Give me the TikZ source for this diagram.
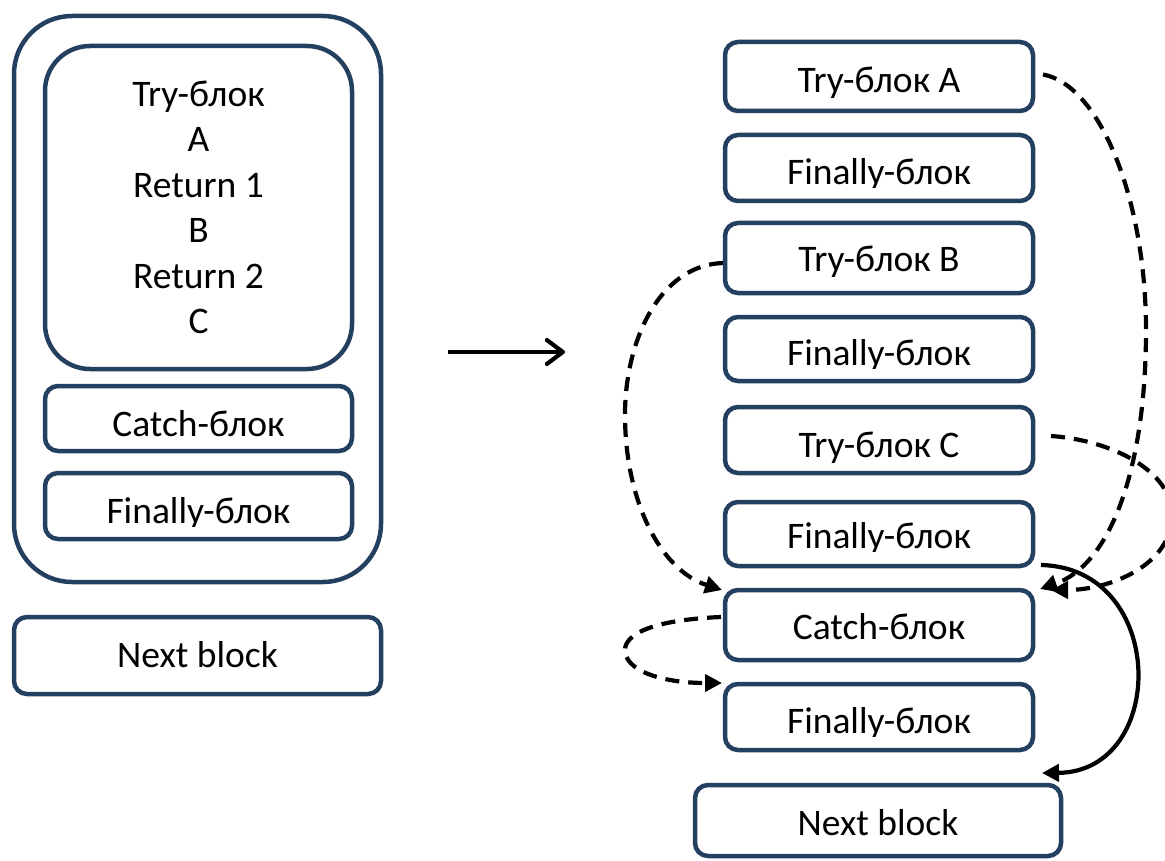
\documentclass[tikz,border=0pt]{standalone}
\usepackage{fontspec}
\setmainfont{Carlito}
\usetikzlibrary{arrows.meta}
\definecolor{navy}{RGB}{36,64,97}
\tikzset{
  blk/.style={draw=navy, line width=4.5pt, rounded corners=13pt, inner sep=0pt, outer sep=0pt},
  lbl/.style={anchor=base, inner sep=0pt, outer sep=0pt, font=\fontsize{37.5}{45}\selectfont},
  rbox/.style={blk, minimum width=308pt},
  flow/.style={line width=4.2pt, dash pattern=on 14pt off 9pt, -{Triangle[length=17pt,width=17pt]}},
  solidflow/.style={line width=4.2pt, -{Triangle[length=17pt,width=17pt]}},
}
\begin{document}
\begin{tikzpicture}[x=1pt,y=-1pt]
\clip (0,0) rectangle (1165,861);

% ---------- left: nested try/catch/finally ----------
\node[blk, rounded corners=58pt, minimum width=367pt, minimum height=566pt] (outer) at (197.5,299) {};
\node[blk, rounded corners=45pt, minimum width=307pt, minimum height=323pt] (tryL) at (198.5,207.5) {};
\node[lbl] (l1) at (198.5,107) {Try-блок};
\node[lbl] (l2) at (198.5,152) {A};
\node[lbl] (l3) at (198.5,198) {Return 1};
\node[lbl] (l4) at (198.5,243) {B};
\node[lbl] (l5) at (198.5,288) {Return 2};
\node[lbl] (l6) at (198.5,333) {C};

\node[blk, minimum width=307pt, minimum height=65pt] (catchL) at (198.5,418.5) {};
\node[lbl] (catchLt) at (198.5,436) {Catch-блок};

\node[blk, minimum width=307pt, minimum height=66pt] (finL) at (198.5,506) {};
\begin{scope}
  \clip (47,475) rectangle (350,526);
  \node[lbl] (finLt) at (198.5,523) {Finally-блок};
\end{scope}

\node[blk, minimum width=367pt, minimum height=77pt] (nextL) at (197.5,655.5) {};
\node[lbl] (nextLt) at (197.5,667) {Next block};

% ---------- middle arrow ----------
\coordinate (m1) at (448,352);
\coordinate (m2) at (565,352);
\draw[line width=4.2pt, -{Straight Barb[length=16pt,width=24pt,round]}] (m1) -- (m2);

% ---------- right: unrolled blocks ----------
\node[rbox, minimum height=69pt] (tA) at (879,76.5) {};
\node[lbl] (tAt) at (879,93) {Try-блок A};

\node[rbox, minimum height=66pt] (f1) at (879,168) {};
\begin{scope}
  \clip (727,137) rectangle (1031,188);
  \node[lbl] (f1t) at (879,185) {Finally-блок};
\end{scope}

\node[rbox, minimum height=70pt] (tB) at (879,258) {};
\node[lbl] (tBt) at (879,272) {Try-блок B};

\node[rbox, minimum height=64pt] (f2) at (879,349) {};
\begin{scope}
  \clip (727,319) rectangle (1031,368);
  \node[lbl] (f2t) at (879,365) {Finally-блок};
\end{scope}

\node[rbox, minimum height=66pt] (tC) at (879,440) {};
\node[lbl] (tCt) at (879,457) {Try-блок C};

\node[rbox, minimum height=64pt] (f3) at (879,534) {};
\begin{scope}
  \clip (727,504) rectangle (1031,551);
  \node[lbl] (f3t) at (879,548) {Finally-блок};
\end{scope}

\node[rbox, minimum height=70pt] (cR) at (879,625) {};
\node[lbl] (cRt) at (879,639) {Catch-блок};

\node[rbox, minimum height=66pt] (f4) at (879,717) {};
\begin{scope}
  \clip (727,686) rectangle (1031,736);
  \node[lbl] (f4t) at (879,733) {Finally-блок};
\end{scope}

\node[blk, minimum width=366pt, minimum height=71pt] (nR) at (878,820.5) {};
\node[lbl] (nRt) at (878,835) {Next block};

% ---------- control-flow connectors ----------
% Try A -> Catch
\draw[flow] ([shift={(10,-2)}]tA.east)
  .. controls (1100,85) and (1146,200) .. (1146,330)
  .. controls (1146,470) and (1110,565) .. ([shift={(7,-1)}]cR.north east);
% Try C -> Catch
\draw[flow] ([shift={(18,-4)}]tC.east)
  .. controls (1110,440) and (1172,470) .. (1172,515)
  .. controls (1172,565) and (1110,590) .. ([shift={(18,0)}]cR.north east);
% Try B -> Catch
\draw[flow] ([shift={(-2,5)}]tB.west)
  .. controls (660,265) and (625,340) .. (625,415)
  .. controls (625,500) and (660,570) .. ([shift={(-3,0)}]cR.north west);
% Catch -> Finally
\draw[flow] ([shift={(-4,-8)}]cR.west)
  .. controls (650,620) and (625,635) .. (625,650)
  .. controls (625,670) and (660,683) .. ([shift={(-3,-1)}]f4.north west);
% Finally -> Next block
\draw[solidflow] ([shift={(8,-1)}]f3.south east)
  .. controls (1168,568) and (1168,772) .. ([shift={(-19,-12)}]nR.north east);
\end{tikzpicture}
\end{document}
